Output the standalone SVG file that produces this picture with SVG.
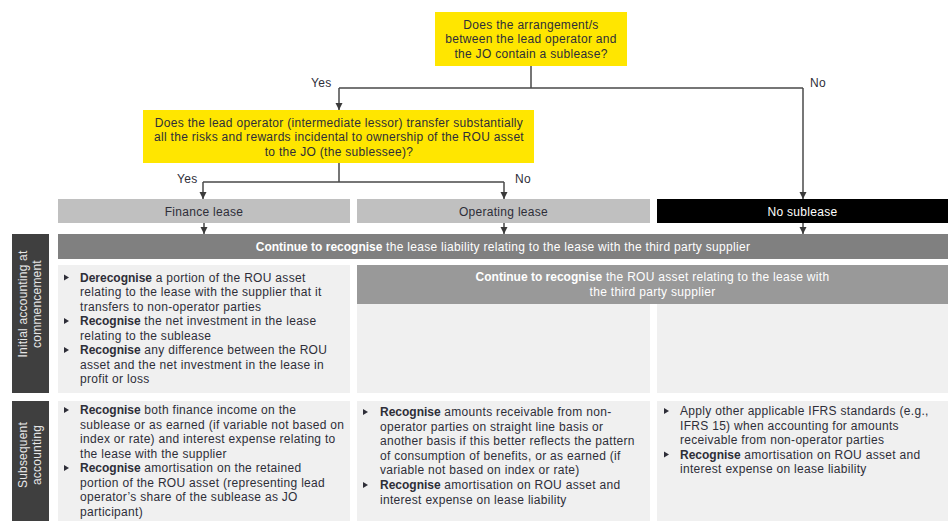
<svg xmlns="http://www.w3.org/2000/svg" width="951" height="521" viewBox="0 0 951 521">
<defs>
<marker id="arr" markerUnits="userSpaceOnUse" markerWidth="8" markerHeight="8" refX="7" refY="3.5" orient="auto">
<path d="M0,0 L7,3.5 L0,7 z" fill="#3a3a3a"/>
</marker>
<polygon id="bul" points="0,-3 5,0 0,3" fill="#2e2e38"/>
<style>
text{font-family:"Liberation Sans",Arial,sans-serif;font-size:12px;letter-spacing:0.3px;fill:#2e2e38}
.c{text-anchor:middle}
.w{fill:#ffffff}
.b{font-weight:bold;letter-spacing:0}
.yel{fill:#ffe600}
.lg{fill:#c0c0c0}
.bar{fill:#808080}
.hdr{fill:#999999}
.pan{fill:#f0f0f0}
.side{fill:#3f3f3f}
.side text{fill:#e6e6e6;font-size:12px;letter-spacing:0.2px}
.con{fill:none;stroke:#4a4a4a;stroke-width:1.5}
</style>
</defs>
<rect width="951" height="521" fill="#ffffff"/>

<g id="q1">
<rect class="yel" x="435" y="12" width="192" height="54"/>
<text class="c" x="531" y="29">Does the arrangement/s</text>
<text class="c" x="531" y="43">between the lead operator and</text>
<text class="c" x="531" y="58">the JO contain a sublease?</text>
</g>

<g id="q2">
<rect class="yel" x="143" y="110" width="391" height="53"/>
<text class="c" x="339" y="127">Does the lead operator (intermediate lessor) transfer substantially</text>
<text class="c" x="339" y="141">all the risks and rewards incidental to ownership of the ROU asset</text>
<text class="c" x="339" y="156">to the JO (the sublessee)?</text>
</g>

<g id="finance">
<rect class="lg" x="58" y="199" width="292" height="24"/>
<text class="c" x="204" y="215.5">Finance lease</text>
</g>
<g id="operating">
<rect class="lg" x="357" y="199" width="293" height="24"/>
<text class="c" x="503.5" y="215.5">Operating lease</text>
</g>
<g id="nosub">
<rect x="657" y="199" width="291" height="24" fill="#000000"/>
<text class="c w" x="802.5" y="215.5">No sublease</text>
</g>

<g id="liability">
<rect class="bar" x="58" y="234" width="890" height="25"/>
<text class="c w" x="503" y="250.5"><tspan class="b w">Continue to recognise</tspan> the lease liability relating to the lease with the third party supplier</text>
</g>

<g id="side-initial" class="side">
<rect x="12" y="234" width="37" height="159"/>
<text class="c" transform="translate(27,304) rotate(-90)">Initial accounting at</text>
<text class="c" transform="translate(41,304) rotate(-90)">commencement</text>
</g>
<g id="side-subsequent" class="side">
<rect x="12" y="401" width="37" height="125"/>
<text class="c" transform="translate(27,455) rotate(-90)">Subsequent</text>
<text class="c" transform="translate(41,455) rotate(-90)">accounting</text>
</g>

<g id="fin-initial">
<rect class="pan" x="58" y="265" width="292" height="128"/>
<use href="#bul" x="64" y="277.5"/>
<text x="80" y="281.5"><tspan class="b">Derecognise</tspan> a portion of the ROU asset</text>
<text x="80" y="296">relating to the lease with the supplier that it</text>
<text x="80" y="310.5">transfers to non-operator parties</text>
<use href="#bul" x="64" y="321"/>
<text x="80" y="325"><tspan class="b">Recognise</tspan> the net investment in the lease</text>
<text x="80" y="339.5">relating to the sublease</text>
<use href="#bul" x="64" y="350"/>
<text x="80" y="354"><tspan class="b">Recognise</tspan> any difference between the ROU</text>
<text x="80" y="368.5">asset and the net investment in the lease in</text>
<text x="80" y="383">profit or loss</text>
</g>

<g id="rou-header">
<rect class="hdr" x="357" y="265" width="591" height="39"/>
<text class="c w" x="652.5" y="281"><tspan class="b w">Continue to recognise</tspan> the ROU asset relating to the lease with</text>
<text class="c w" x="652.5" y="296">the third party supplier</text>
</g>
<g id="op-initial">
<rect class="pan" x="357" y="304" width="293" height="89"/>
</g>
<g id="ns-initial">
<rect class="pan" x="657" y="304" width="291" height="89"/>
</g>

<g id="fin-subsequent">
<rect class="pan" x="58" y="401" width="292" height="125"/>
<use href="#bul" x="64" y="410"/>
<text x="80" y="414"><tspan class="b">Recognise</tspan> both finance income on the</text>
<text x="80" y="428.5">sublease or as earned (if variable not based on</text>
<text x="80" y="443">index or rate) and interest expense relating to</text>
<text x="80" y="457.5">the lease with the supplier</text>
<use href="#bul" x="64" y="468"/>
<text x="80" y="472"><tspan class="b">Recognise</tspan> amortisation on the retained</text>
<text x="80" y="486.5">portion of the ROU asset (representing lead</text>
<text x="80" y="501">operator’s share of the sublease as JO</text>
<text x="80" y="515.5">participant)</text>
</g>

<g id="op-subsequent">
<rect class="pan" x="357" y="401" width="293" height="125"/>
<use href="#bul" x="363" y="412"/>
<text x="380" y="416"><tspan class="b">Recognise</tspan> amounts receivable from non-</text>
<text x="380" y="430.5">operator parties on straight line basis or</text>
<text x="380" y="445">another basis if this better reflects the pattern</text>
<text x="380" y="459.5">of consumption of benefits, or as earned (if</text>
<text x="380" y="474">variable not based on index or rate)</text>
<use href="#bul" x="363" y="485"/>
<text x="380" y="489"><tspan class="b">Recognise</tspan> amortisation on ROU asset and</text>
<text x="380" y="503.5">interest expense on lease liability</text>
</g>

<g id="ns-subsequent">
<rect class="pan" x="657" y="401" width="291" height="125"/>
<use href="#bul" x="664" y="411"/>
<text x="680" y="415">Apply other applicable IFRS standards (e.g.,</text>
<text x="680" y="429.5">IFRS 15) when accounting for amounts</text>
<text x="680" y="444">receivable from non-operator parties</text>
<use href="#bul" x="664" y="454.5"/>
<text x="680" y="458.5"><tspan class="b">Recognise</tspan> amortisation on ROU asset and</text>
<text x="680" y="473">interest expense on lease liability</text>
</g>

<g id="connectors">
<path class="con" d="M531,66 V88 M339,88 H803"/>
<path class="con" d="M339,88 V110" marker-end="url(#arr)"/>
<path class="con" d="M803,88 V199" marker-end="url(#arr)"/>
<path class="con" d="M339,163 V182 M203,182 H504"/>
<path class="con" d="M203,182 V199" marker-end="url(#arr)"/>
<path class="con" d="M504,182 V199" marker-end="url(#arr)"/>
<path class="con" d="M204,223 V234" marker-end="url(#arr)"/>
<path class="con" d="M504,223 V234" marker-end="url(#arr)"/>
<path class="con" d="M803,223 V234" marker-end="url(#arr)"/>
<text x="311" y="86.5">Yes</text>
<text x="810" y="86.5">No</text>
<text x="177" y="182.5">Yes</text>
<text x="515" y="182.5">No</text>
</g>
</svg>
